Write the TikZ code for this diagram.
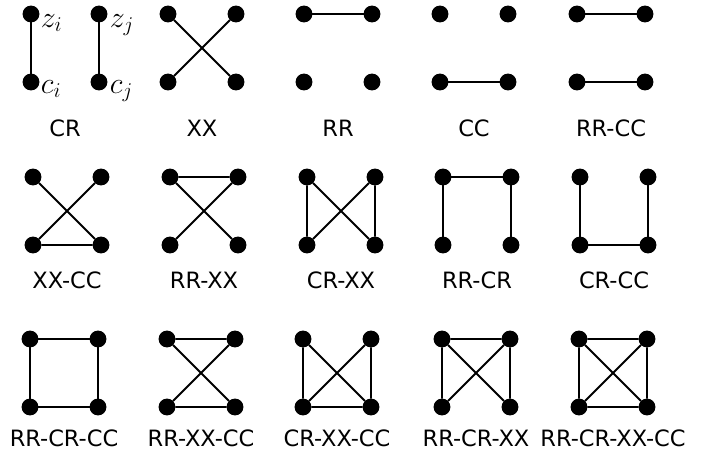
\RequirePackage{fix-cm}
\documentclass[tikz,border=0pt]{standalone}
\usepackage{amsmath,amssymb,fontspec}
\usepackage{tikz}
\usetikzlibrary{calc}
\newfontfamily\labelfont{DejaVu Sans}
\tikzset{
	% dots of a pattern and the name under it
	solid node/.style={circle,draw,inner sep=0,minimum size=15pt,fill=black},
	pattern label/.style={font=\labelfont\fontsize{22.5}{26}\selectfont,inner sep=0},
	var label/.style={font=\fontsize{30}{36}\selectfont,inner sep=0,anchor=base west}
}

\begin{document}
\begin{tikzpicture}[x=1pt,y=-1pt,line width=1.8pt]
			% four dots: 1 top left, 2 top right, 3 bottom left, 4 bottom right
			\newcommand{\fournodes}[3]{
				\node(#1-1)[solid node] at (#2,#3){};
				\node(#1-2)[solid node] at (#2+68,#3){};
				\node(#1-3)[solid node] at (#2,#3+68){};
				\node(#1-4)[solid node] at (#2+68,#3+68){};
			}
			% name of the pattern, centred under its dots
			\newcommand{\patname}[4]{\node(#1-name)[pattern label] at (#2+34,#3){#4};}
			\useasboundingbox (0,0) rectangle (702,453);
			
			% first row
			\fournodes{cr}{31}{14}
			\fournodes{xx}{168}{14}
			\fournodes{rr}{304}{14}
			\fournodes{cc}{440}{14}
			\fournodes{rrcc}{577}{14}
			
			% second row
			\fournodes{xxcc}{33}{177}
			\fournodes{rrxx}{170}{177}
			\fournodes{crxx}{307}{177}
			\fournodes{rrcr}{443}{177}
			\fournodes{crcc}{580}{177}
			
			% third row
			\fournodes{rrcrcc}{30}{339}
			\fournodes{rrxxcc}{167}{339}
			\fournodes{crxxcc}{303}{339}
			\fournodes{rrcrxx}{442}{339}
			\fournodes{all}{579}{339}
			
			\node(zi)[var label] at (40,27){$z_i$};
			\node(zj)[var label] at (109,27){$z_j$};
			\node(ci)[var label] at (40,93){$c_i$};
			\node(cj)[var label] at (109,93){$c_j$};
			
			\draw (cr-1) -- (cr-3) (cr-2) -- (cr-4);
			\draw (xx-1) -- (xx-4) (xx-2) -- (xx-3);
			\draw (rr-1) -- (rr-2);
			\draw (cc-3) -- (cc-4);
			\draw (rrcc-1) -- (rrcc-2) (rrcc-3) -- (rrcc-4);
			
			\draw (xxcc-1) -- (xxcc-4) (xxcc-2) -- (xxcc-3) (xxcc-3) -- (xxcc-4);
			\draw (rrxx-1) -- (rrxx-2) (rrxx-1) -- (rrxx-4) (rrxx-2) -- (rrxx-3);
			\draw (crxx-1) -- (crxx-3) (crxx-2) -- (crxx-4) (crxx-1) -- (crxx-4) (crxx-2) -- (crxx-3);
			\draw (rrcr-1) -- (rrcr-2) (rrcr-1) -- (rrcr-3) (rrcr-2) -- (rrcr-4);
			\draw (crcc-1) -- (crcc-3) (crcc-2) -- (crcc-4) (crcc-3) -- (crcc-4);
			
			\draw (rrcrcc-1) -- (rrcrcc-2) (rrcrcc-1) -- (rrcrcc-3) (rrcrcc-2) -- (rrcrcc-4) (rrcrcc-3) -- (rrcrcc-4);
			\draw (rrxxcc-1) -- (rrxxcc-2) (rrxxcc-1) -- (rrxxcc-4) (rrxxcc-2) -- (rrxxcc-3) (rrxxcc-3) -- (rrxxcc-4);
			\draw (crxxcc-1) -- (crxxcc-3) (crxxcc-2) -- (crxxcc-4) (crxxcc-1) -- (crxxcc-4) (crxxcc-2) -- (crxxcc-3) (crxxcc-3) -- (crxxcc-4);
			\draw (rrcrxx-1) -- (rrcrxx-2) (rrcrxx-1) -- (rrcrxx-3) (rrcrxx-2) -- (rrcrxx-4) (rrcrxx-1) -- (rrcrxx-4) (rrcrxx-2) -- (rrcrxx-3);
			\draw (all-1) -- (all-2) (all-1) -- (all-3) (all-2) -- (all-4) (all-3) -- (all-4) (all-1) -- (all-4) (all-2) -- (all-3);
			
			\patname{cr}{31}{128}{CR}
			\patname{xx}{168}{128}{XX}
			\patname{rr}{304}{128}{RR}
			\patname{cc}{440}{128}{CC}
			\patname{rrcc}{577}{128}{RR-CC}
			\patname{xxcc}{33}{280}{XX-CC}
			\patname{rrxx}{170}{280}{RR-XX}
			\patname{crxx}{307}{280}{CR-XX}
			\patname{rrcr}{443}{280}{RR-CR}
			\patname{crcc}{580}{280}{CR-CC}
			\patname{rrcrcc}{30}{438}{RR-CR-CC}
			\patname{rrxxcc}{167}{438}{RR-XX-CC}
			\patname{crxxcc}{303}{438}{CR-XX-CC}
			\patname{rrcrxx}{442}{438}{RR-CR-XX}
			\patname{all}{579}{438}{RR-CR-XX-CC}
		\end{tikzpicture}
\end{document}
